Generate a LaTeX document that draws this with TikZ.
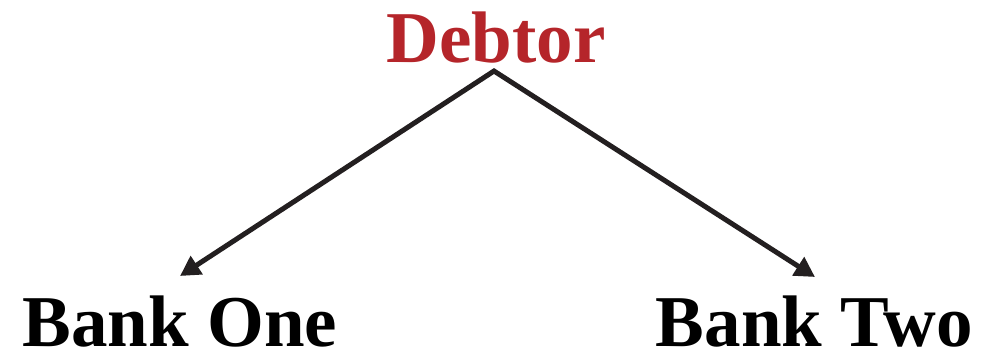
\documentclass[tikz,border=0pt]{standalone}
\usepackage{fontspec}
\setmainfont{Liberation Serif}
\usetikzlibrary{arrows.meta}
\definecolor{debtred}{HTML}{B5252A}
\definecolor{inkdark}{HTML}{231F20}
\tikzset{
  lbl/.style={anchor=base, inner sep=0pt, text depth=0pt, font=\fontsize{73}{80}\selectfont\bfseries},
  link/.style={draw=inkdark, line width=5pt, line join=miter, {Triangle[length=20pt,width=21pt]}-{Triangle[length=20pt,width=21pt]}}
}
\begin{document}
\begin{tikzpicture}[x=1pt,y=-1pt]
\useasboundingbox (0,0) rectangle (981,357);
\node[lbl, text=debtred] (debtor) at (496,62) {Debtor};
\node[lbl, text=black] (one) at (180,346) {Bank One};
\node[lbl, text=black] (two) at (814.5,346) {Bank Two};
\coordinate (apex) at (494,71);
\coordinate (tipone) at (180,276);
\coordinate (tiptwo) at (815,277);
\draw[link] (tipone) -- (apex) -- (tiptwo);
\end{tikzpicture}
\end{document}
